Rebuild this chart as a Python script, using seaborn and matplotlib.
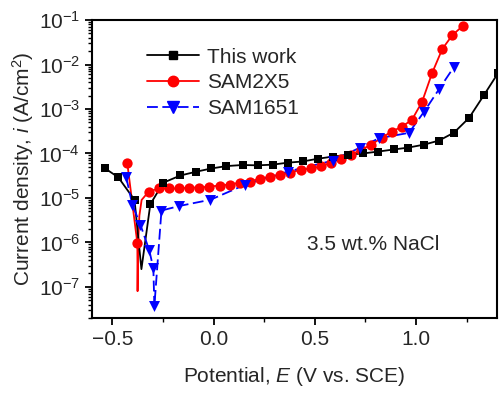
import numpy as np
import pandas as pd
import seaborn as sns
import matplotlib
matplotlib.use("Agg")
import matplotlib.pyplot as plt
from matplotlib.lines import Line2D
from matplotlib.ticker import MultipleLocator, LogLocator, NullFormatter

# 极化曲线数据
# This work: 带标记的点
work_E = [-0.535, -0.47, -0.39, -0.312, -0.248, -0.163, -0.084, -0.01, 0.064, 0.144,
          0.218, 0.292, 0.366, 0.44, 0.515, 0.589, 0.663, 0.738, 0.812, 0.891,
          0.96, 1.04, 1.114, 1.188, 1.262, 1.337, 1.406]
work_i = [4.6e-5, 2.9e-5, 9.0e-6, 7.2e-6, 2.2e-5, 3.2e-5, 3.9e-5, 4.6e-5, 5.2e-5, 5.5e-5,
          5.4e-5, 5.6e-5, 6.2e-5, 6.6e-5, 7.6e-5, 8.5e-5, 9.3e-5, 1.0e-4, 1.1e-4, 1.23e-4,
          1.35e-4, 1.58e-4, 1.95e-4, 2.95e-4, 6.3e-4, 2.1e-3, 6.5e-3]
# 腐蚀电位处无标记的线段
work_dip_E = [-0.356]
work_dip_i = [2.5e-7]

# SAM2X5
sam2_E = [-0.426, -0.376, -0.32, -0.27, -0.22, -0.17, -0.12, -0.07, -0.02, 0.03,
          0.08, 0.13, 0.18, 0.23, 0.28, 0.33, 0.38, 0.43, 0.48, 0.53,
          0.58, 0.63, 0.68, 0.73, 0.78, 0.83, 0.88, 0.93, 0.98, 1.03,
          1.08, 1.13, 1.18, 1.23]
sam2_i = [6.2e-5, 9.5e-7, 1.39e-5, 1.63e-5, 1.63e-5, 1.63e-5, 1.71e-5, 1.71e-5, 1.8e-5, 1.9e-5,
          2.0e-5, 2.2e-5, 2.33e-5, 2.72e-5, 3.0e-5, 3.35e-5, 3.7e-5, 4.3e-5, 4.6e-5, 5.1e-5,
          6.2e-5, 7.6e-5, 9.4e-5, 1.22e-4, 1.58e-4, 2.26e-4, 3.1e-4, 4.0e-4, 5.7e-4, 1.45e-3,
          6.5e-3, 2.24e-2, 4.6e-2, 7.3e-2]
sam2_dip_E = [-0.375, -0.372, -0.366, -0.355]
sam2_dip_i = [8e-8, 1e-6, 4e-6, 9e-6]

# SAM1651
sam16_E = [-0.431, -0.401, -0.361, -0.317, -0.297, -0.292, -0.257, -0.168, -0.015, 0.158,
           0.366, 0.589, 0.723, 0.817, 0.965, 1.04, 1.114, 1.188]
sam16_i = [2.9e-5, 7.1e-6, 2.5e-6, 6.6e-7, 2.6e-7, 3.7e-8, 5.2e-6, 6.6e-6, 9.1e-6, 2.0e-5,
           3.9e-5, 6.9e-5, 1.35e-4, 2.2e-4, 2.9e-4, 8.7e-4, 2.8e-3, 8.9e-3]

series = [
    ("SAM2X5", sam2_E, sam2_i, sam2_dip_E, sam2_dip_i, "red", "o", 55, "-"),
    ("This work", work_E, work_i, work_dip_E, work_dip_i, "black", "s", 40, "-"),
    ("SAM1651", sam16_E, sam16_i, [], [], "blue", "v", 62, (0, (6, 2.5))),
]

sns.set_style("ticks")
plt.rcParams['font.family'] = ['Liberation Sans', 'DejaVu Sans']
plt.rcParams['mathtext.fontset'] = 'custom'
plt.rcParams['mathtext.rm'] = 'Liberation Sans'
plt.rcParams['mathtext.it'] = 'Liberation Sans:italic'

fig = plt.figure(figsize=(5, 3.93), dpi=100)
ax = fig.add_axes([0.184, 0.191, 0.810, 0.758])

for name, E, i, dE, di, c, m, s, ls in series:
    line_df = pd.DataFrame({"E": E + dE, "i": i + di}).sort_values("E")
    sns.lineplot(data=line_df, x="E", y="i", ax=ax, color=c, lw=1.3,
                 linestyle=ls, sort=False, estimator=None)
    pts = pd.DataFrame({"E": E, "i": i})
    sns.scatterplot(data=pts, x="E", y="i", ax=ax, color=c, marker=m, s=s,
                    linewidth=0, zorder=3)

ax.set_yscale("log")
ax.set_xlim(-0.6, 1.4)
ax.set_ylim(2e-8, 1e-1)
ax.xaxis.set_major_locator(MultipleLocator(0.5))
ax.xaxis.set_minor_locator(MultipleLocator(0.25))
ax.yaxis.set_major_locator(LogLocator(base=10, numticks=10))
ax.yaxis.set_minor_locator(LogLocator(base=10, subs=np.arange(2, 10), numticks=10))
ax.yaxis.set_minor_formatter(NullFormatter())

for sp in ax.spines.values():
    sp.set_linewidth(1.5)
    sp.set_color("black")
ax.tick_params(which="major", direction="out", length=5, width=1.3, labelsize=15,
               color="black", left=True, bottom=True, top=False, right=False)
ax.tick_params(which="minor", direction="out", length=3, width=1.0,
               color="black", left=True, bottom=True, top=False, right=False)

ax.set_xlabel("Potential, $E$ (V vs. SCE)", fontsize=15, labelpad=12)
ax.set_ylabel("Current density, $i$ (A/cm$^2$)", fontsize=15, labelpad=2)

ax.text(0.694, 0.245, "3.5 wt.% NaCl", transform=ax.transAxes, fontsize=15,
        ha="center", va="center")

handles = [Line2D([], [], color="black", marker="s", markersize=6.3, lw=1.3),
           Line2D([], [], color="red", marker="o", markersize=7.5, lw=1.3),
           Line2D([], [], color="blue", marker="v", markersize=8, lw=1.3,
                  linestyle=(0, (6, 2.5)))]
ax.legend(handles, ["This work", "SAM2X5", "SAM1651"], loc="upper left",
          bbox_to_anchor=(0.115, 0.935), frameon=False, fontsize=15,
          handlelength=2.5, handletextpad=0.4, labelspacing=0.32,
          borderaxespad=0)

fig.savefig("out.png", dpi=100)
